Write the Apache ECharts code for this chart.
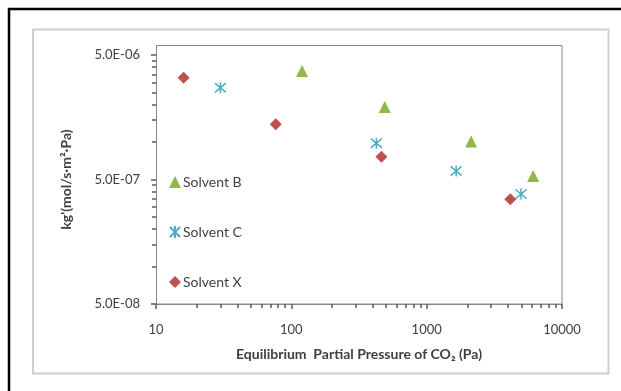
<!DOCTYPE html>
<html>
<head>
<meta charset="utf-8">
<script src="https://cdn.jsdelivr.net/npm/echarts@6/dist/echarts.min.js"></script>
<style>
    html, body { margin: 0; padding: 0; background: #fff; }
    #chart { width: 621px; height: 391px; }
</style>
</head>
<body>
<div id="chart"></div>
<script>
// values (x in Pa, y in mol/s·m²·Pa)
const seriesNames = ["Solvent B", "Solvent C", "Solvent X"];
const solventB_x = [120, 490, 2130, 6120];
const solventB_y = [3.72e-6, 1.91e-6, 1.01e-6, 5.33e-7];
const solventC_x = [29.9, 425, 1652, 4980];
const solventC_y = [2.73e-6, 9.77e-7, 5.85e-7, 3.82e-7];
const solventX_x = [16.0, 76.7, 463, 4150];
const solventX_y = [3.29e-6, 1.39e-6, 7.62e-7, 3.47e-7];
const yTickLabels = ["5.0E-08", "5.0E-07", "5.0E-06"];
// y axis is a log axis counted in units of 5.0E-08
const yUnit = 5e-8;

const font = "Lato, 'Open Sans', sans-serif";
const textColor = "#404040";
const axisColor = "#868686";
const tickColor = "#5a5a5a";

function pairs(xs, ys) {
    return xs.map((x, i) => [x, ys[i] / yUnit]);
}

let chart = echarts.init(document.getElementById("chart"));

let option = {
    animation: false,
    backgroundColor: "#fff",
    textStyle: { fontFamily: font },
    grid: {
        left: 156,
        right: 59,
        top: 55,
        bottom: 87,
    },
    legend: {
        orient: "vertical",
        left: 169,
        top: 175,
        padding: 0,
        itemWidth: 12,
        itemHeight: 12,
        itemGap: 36,
        textStyle: {
            fontFamily: font,
            fontSize: 14,
            color: textColor,
            padding: [0, 0, 0, -3],
        },
        data: seriesNames,
    },
    xAxis: {
        type: "log",
        min: 10,
        max: 10000,
        name: "Equilibrium  Partial Pressure of CO\u2082 (Pa)",
        nameLocation: "middle",
        nameGap: 43,
        nameTextStyle: {
            fontFamily: font,
            fontSize: 14,
            fontWeight: "bold",
            color: textColor,
        },
        splitLine: { show: false },
        axisLine: { show: true, lineStyle: { color: axisColor } },
        axisTick: { show: true, length: 5, lineStyle: { color: tickColor, width: 1.5 } },
        minorTick: {
            show: true,
            splitNumber: 9,
            length: 4,
            lineStyle: { color: tickColor, width: 1.5 },
        },
        axisLabel: {
            margin: 19,
            fontSize: 13,
            color: textColor,
            formatter: (v) => String(Math.round(v)),
        },
    },
    yAxis: {
        type: "log",
        min: 1,
        max: 100,
        name: "kg'(mol/s\u00b7m\u00b2\u00b7Pa)",
        nameLocation: "middle",
        nameGap: 83,
        nameTextStyle: {
            fontFamily: font,
            fontSize: 14,
            fontWeight: "bold",
            color: textColor,
        },
        splitLine: { show: false },
        axisLine: { show: true, lineStyle: { color: axisColor } },
        axisTick: { show: true, length: 5, lineStyle: { color: tickColor, width: 1.5 } },
        minorTick: {
            show: true,
            splitNumber: 9,
            length: 4,
            lineStyle: { color: tickColor, width: 1.5 },
        },
        axisLabel: {
            margin: 16,
            fontSize: 13,
            color: textColor,
            formatter: (v) => {
                let k = Math.round(Math.log10(v));
                return yTickLabels[k] || "";
            },
        },
    },
    graphic: [
        {
            type: "rect",
            silent: true,
            shape: { x: 9, y: 9, width: 700, height: 500 },
            style: { fill: "none", stroke: "#000", lineWidth: 2.5 },
        },
        {
            type: "rect",
            silent: true,
            shape: { x: 33, y: 29.5, width: 575.5, height: 344 },
            style: { fill: "none", stroke: "#cfcfcf", lineWidth: 2 },
        },
        {
            // plot area frame (reaches a little above the top tick)
            type: "rect",
            silent: true,
            shape: { x: 156.5, y: 45.5, width: 405.5, height: 258.5 },
            style: { fill: "none", stroke: axisColor, lineWidth: 1 },
        },
    ],
    series: [
        {
            name: "Solvent B",
            type: "scatter",
            symbol: "triangle",
            symbolSize: 12,
            itemStyle: { color: "#8fb848", opacity: 1 },
            data: pairs(solventB_x, solventB_y),
        },
        {
            name: "Solvent C",
            type: "scatter",
            symbol: "path://M0,0L10,10M10,0L0,10M5,-1L5,11",
            symbolSize: 11,
            itemStyle: { color: "#4bacc6", borderColor: "#4bacc6", borderWidth: 1.5, opacity: 1 },
            data: pairs(solventC_x, solventC_y),
        },
        {
            name: "Solvent X",
            type: "scatter",
            symbol: "diamond",
            symbolSize: 12,
            itemStyle: { color: "#c0504d", opacity: 1 },
            data: pairs(solventX_x, solventX_y),
        },
    ],
};

chart.setOption(option);
</script>
</body>
</html>
